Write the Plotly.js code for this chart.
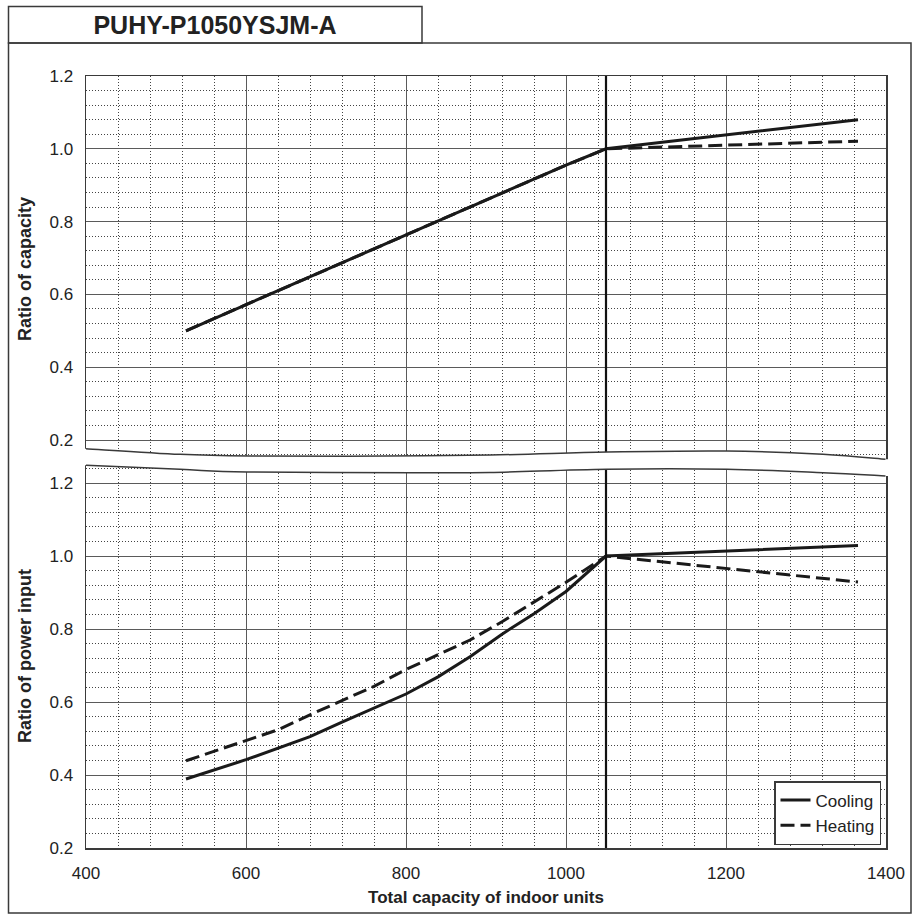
<!DOCTYPE html>
<html>
<head>
<meta charset="utf-8">
<script src="https://cdn.plot.ly/plotly-3.0.1.min.js"></script>
<style>
  html, body { margin: 0; padding: 0; background: #ffffff; }
  #chart { width: 917px; height: 922px; }
</style>
</head>
<body>
<div id="chart"></div>
<script>
// ---------------- data ----------------
const chartTitle = "PUHY-P1050YSJM-A";
const ratedCapacity = 1050;

// Ratio of capacity (upper panel)
const capCoolX = [525, 600, 700, 800, 900, 1000, 1050, 1365];
const capCoolY = [0.500, 0.572, 0.667, 0.762, 0.858, 0.955, 1.000, 1.080];
const capHeatX = [525, 600, 700, 800, 900, 1000, 1050, 1365];
const capHeatY = [0.500, 0.572, 0.667, 0.762, 0.858, 0.955, 1.000, 1.021];

// Ratio of power input (lower panel)
const powCoolX = [525, 600, 680, 720, 800, 840, 880, 920, 960, 1000, 1050, 1365];
const powCoolY = [0.389, 0.442, 0.505, 0.545, 0.622, 0.669, 0.724, 0.786, 0.842, 0.903, 1.000, 1.029];
const powHeatX = [525, 600, 640, 680, 720, 760, 800, 840, 880, 920, 960, 1000, 1050, 1365];
const powHeatY = [0.439, 0.495, 0.524, 0.565, 0.605, 0.643, 0.689, 0.730, 0.770, 0.820, 0.875, 0.928, 1.000, 0.929];

const xTickVals = [400, 600, 800, 1000, 1200, 1400];
const yTickVals = [0.2, 0.4, 0.6, 0.8, 1.0, 1.2];
const seriesNames = ["Cooling", "Heating"];

// ---------------- layout geometry (pixels) ----------------
const W = 917, H = 922;
const M = { l: 86, r: 31, t: 76, b: 74 };
const PW = W - M.l - M.r, PH = H - M.t - M.b;
const px = x => (x - M.l) / PW;
const py = y => (H - M.b - y) / PH;

const FONT = "Liberation Sans, Arial, sans-serif";
const INK = "#1a1a1a";
const FRAME = "#3a3a3a";
const MAJOR = "#5a5a5a";
const MINOR = "#444444";

// break (wavy) edges, in pixels
const topWave = [[86, 448.7], [180, 454.3], [250, 456], [347, 456.2], [490, 455], [607, 452], [727, 451], [823, 454.3], [885.5, 459.3]];
const botWave = [[86, 465.3], [180, 469.3], [247, 472], [413, 472.7], [490, 472.5], [607, 469.3], [727, 469.3], [823, 472.7], [885.5, 476]];

function toPaper(pts) { return pts.map(p => [px(p[0]), py(p[1])]); }
function bezier(pts, start) {
  let d = start ? `M${pts[0][0]},${pts[0][1]}` : `L${pts[0][0]},${pts[0][1]}`;
  for (let i = 0; i < pts.length - 1; i++) {
    const p0 = pts[i - 1] || pts[i], p1 = pts[i], p2 = pts[i + 1], p3 = pts[i + 2] || pts[i + 1];
    const c1 = [p1[0] + (p2[0] - p0[0]) / 6, p1[1] + (p2[1] - p0[1]) / 6];
    const c2 = [p2[0] - (p3[0] - p1[0]) / 6, p2[1] - (p3[1] - p1[1]) / 6];
    d += ` C${c1[0]},${c1[1]} ${c2[0]},${c2[1]} ${p2[0]},${p2[1]}`;
  }
  return d;
}
const tw = toPaper(topWave), bw = toPaper(botWave);
const maskPath =
  `M${px(83)},${tw[0][1]} ` + bezier(tw, false) + ` L${px(889)},${tw[tw.length - 1][1]}` +
  ` L${px(889)},${bw[bw.length - 1][1]} ` + bezier(bw.slice().reverse(), false) + ` L${px(83)},${bw[0][1]} Z`;

// ---------------- traces ----------------
const lineSolid = { color: INK, width: 3 };
const lineDash = { color: INK, width: 3, dash: "14px,6px" };
const traces = [
  { x: capHeatX, y: capHeatY, xaxis: "x2", yaxis: "y", mode: "lines", line: lineDash, name: seriesNames[1], showlegend: false, hoverinfo: "skip" },
  { x: capCoolX, y: capCoolY, xaxis: "x2", yaxis: "y", mode: "lines", line: lineSolid, name: seriesNames[0], showlegend: false, hoverinfo: "skip" },
  { x: powCoolX, y: powCoolY, xaxis: "x", yaxis: "y2", mode: "lines", line: lineSolid, name: seriesNames[0] },
  { x: powHeatX, y: powHeatY, xaxis: "x", yaxis: "y2", mode: "lines", line: lineDash, name: seriesNames[1] }
];

const gridMinor = (dtick, tick0) => ({ dtick: dtick, tick0: tick0, showgrid: true, gridcolor: MINOR, gridwidth: 1, griddash: "1px,2px", ticks: "" });

const xCommon = {
  range: [400, 1400], tickmode: "array", tickvals: xTickVals,
  showgrid: true, gridcolor: MAJOR, gridwidth: 1, zeroline: false,
  showline: true, linecolor: FRAME, linewidth: 1.5, mirror: true,
  minor: gridMinor(40, 400),
  ticks: "outside", ticklen: 9, tickcolor: "rgba(0,0,0,0)",
  tickfont: { family: FONT, size: 17, color: "#222" }, fixedrange: true
};
const yCommon = {
  tickmode: "array", tickvals: yTickVals, tickformat: ".1f",
  showgrid: true, gridcolor: MAJOR, gridwidth: 1, zeroline: false,
  showline: true, linecolor: FRAME, linewidth: 1.5, mirror: true,
  minor: gridMinor(0.04, 0.2),
  ticks: "outside", ticklen: 8, tickcolor: "rgba(0,0,0,0)",
  tickfont: { family: FONT, size: 17, color: "#222" }, fixedrange: true
};

const layout = {
  width: W, height: H,
  margin: M,
  paper_bgcolor: "#ffffff", plot_bgcolor: "#ffffff",
  showlegend: true,
  title: {
    text: "<b>" + chartTitle + "</b>",
    font: { family: FONT, size: 25, color: "#222" },
    xref: "container", yref: "container",
    x: 215 / W, xanchor: "center", y: 1 - 25 / H, yanchor: "middle"
  },
  xaxis: Object.assign({}, xCommon, {
    anchor: "y2",
    title: { text: "<b>Total capacity of indoor units</b>", font: { family: FONT, size: 17, color: "#222" }, standoff: 9 }
  }),
  xaxis2: Object.assign({}, xCommon, { anchor: "y", matches: "x", showticklabels: false }),
  yaxis: Object.assign({}, yCommon, {
    domain: [0.5, 1], anchor: "x2", range: [0.2 - (462 - 440) / 364, 1.2],
    title: { text: "<b>Ratio of capacity</b>", font: { family: FONT, size: 18, color: "#222" }, standoff: 13 }
  }),
  yaxis2: Object.assign({}, yCommon, {
    domain: [0, (848 - 464) / PH], anchor: "x", range: [0.2, 0.2 + (848 - 464) / 364.9],
    title: { text: "<b>Ratio of power input</b>", font: { family: FONT, size: 18, color: "#222" }, standoff: 13 }
  }),
  legend: {
    x: px(774), y: py(781), xanchor: "left", yanchor: "top",
    bgcolor: "#ffffff", bordercolor: FRAME, borderwidth: 1.5,
    font: { family: FONT, size: 17, color: "#222" },
    itemwidth: 30, tracegroupgap: 0
  },
  shapes: [
    // rated capacity reference line
    { type: "line", xref: "x", yref: "paper", x0: ratedCapacity, x1: ratedCapacity, y0: 0, y1: 1, line: { color: "#111", width: 2.2 }, layer: "above" },
    // mask for the axis break
    { type: "path", xref: "paper", yref: "paper", path: maskPath, fillcolor: "#ffffff", line: { width: 0 }, layer: "above" },
    // wavy break edges
    { type: "path", xref: "paper", yref: "paper", path: bezier(tw, true), line: { color: FRAME, width: 1.5 }, layer: "above" },
    { type: "path", xref: "paper", yref: "paper", path: bezier(bw, true), line: { color: FRAME, width: 1.5 }, layer: "above" },
    // outer frame
    { type: "rect", xref: "paper", yref: "paper", x0: px(8.5), x1: px(911), y0: py(43), y1: py(913), line: { color: FRAME, width: 1.5 }, layer: "above" },
    // title box
    { type: "rect", xref: "paper", yref: "paper", x0: px(8.5), x1: px(422), y0: py(43), y1: py(6.5), line: { color: FRAME, width: 1.5 }, layer: "above" }
  ]
};

Plotly.newPlot("chart", traces, layout, { staticPlot: true, displayModeBar: false });
</script>
</body>
</html>
